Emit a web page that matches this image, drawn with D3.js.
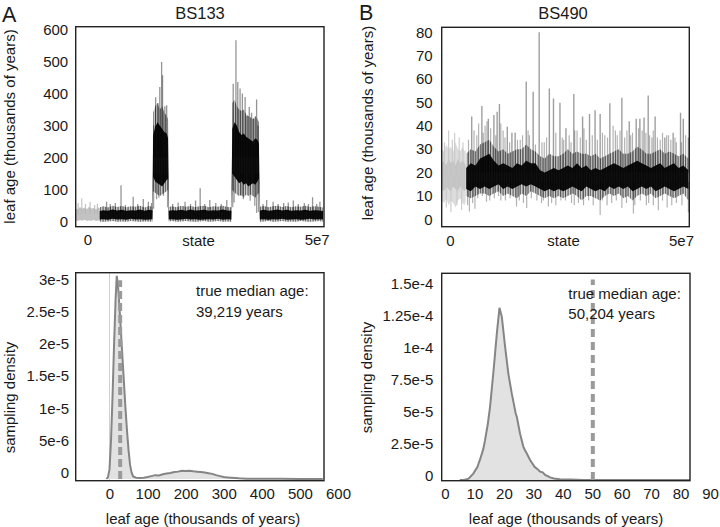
<!DOCTYPE html>
<html><head><meta charset="utf-8">
<script src="https://cdn.jsdelivr.net/npm/d3@7"></script>
<style>
body{margin:0;background:#fff}
svg{display:block}
text{font-family:"Liberation Sans",Arial,sans-serif;fill:#1a1a1a}
</style>
</head><body>
<svg id="chart" width="720" height="527"></svg>
<script>
// ---------------- DATA ----------------
// state axis in millions of MCMC states; ages in thousands of years
const traceXTicks = [0, 50];
const traceXTickLabels = ["0", "5e7"];
const traceAYTicks = [0, 100, 200, 300, 400, 500, 600];
const traceBYTicks = [0, 10, 20, 30, 40, 50, 60, 70, 80];

// Panel A trace: burn-in (grey)
const burnA_state = [-2.6,-2.1,-1.6,-1.1,-0.6,-0.1,0.4,0.9,1.4,1.9,2.4,2.7];
const burnA_lo    = [4,2,5,3,6,2,4,3,5,2,4,3];
const burnA_hi    = [42,38,46,40,44,39,47,41,43,38,45,40];
const burnA_spikeState = [-2.0,-1.2,-0.4,0.6,1.6,2.2];
const burnA_spikeTop   = [58,73,55,62,52,56];

// Panel A trace: sampled states (black)
const mainA_state = [2.7,3.5,4.5,5.5,6.5,7.5,8.5,9.5,10.5,11.5,12.5,13.5,14.2,
  14.35,14.8,15.3,15.8,16.3,16.8,17.3,17.6,
  17.75,18.5,19.5,20.5,21.5,22.5,23.5,24.5,25.5,26.5,27.5,28.5,29.5,30.5,31.4,
  31.6,32.1,32.6,33.1,33.6,34.1,34.6,35.1,35.6,36.1,36.6,37.1,37.4,
  37.6,38.5,39.5,40.5,41.5,42.5,43.5,44.5,45.5,46.5,47.5,48.5,49.5,50.5,51.4];
const mainA_lo = [7,8,6,9,7,8,6,9,7,8,6,7,8,
  140,125,120,115,110,120,130,135,
  7,8,6,7,9,7,8,6,7,8,7,9,6,8,7,
  150,140,130,120,125,115,120,110,115,120,115,125,135,
  7,8,6,8,7,9,6,7,8,6,7,9,7,8,7];
const mainA_hi = [33,36,34,38,35,37,34,36,35,38,34,37,35,
  270,295,310,300,290,280,275,260,
  34,36,35,37,34,38,35,36,37,34,36,35,38,35,34,
  290,310,300,280,270,275,265,260,255,250,260,255,245,
  35,37,34,36,38,35,37,34,36,35,37,34,36,35,33];
const mainA_outLo = [1,0,1,2,0,1,0,2,1,0,1,1,0,
  95,90,85,80,85,90,95,100,
  1,2,0,1,2,1,0,1,2,0,1,2,0,1,0,
  100,90,85,80,85,75,85,80,85,80,75,85,90,
  0,1,2,0,1,2,0,1,0,2,1,0,1,2,0];
const mainA_outHi = [45,48,44,50,46,49,45,48,47,50,44,49,47,
  340,360,370,350,360,340,330,320,
  46,48,45,50,47,49,46,48,50,45,48,47,50,46,45,
  370,380,360,350,345,350,335,330,325,320,330,320,310,
  47,49,45,48,50,46,49,45,48,47,50,46,48,47,44];
const spikeA_state = [4.2,5.0,6.1,7.35,8.3,10.0,11.0,12.2,13.3,14.0,
  14.5,14.9,15.4,15.8,16.2,16.4,16.9,17.3,
  18.6,19.8,21.3,22.5,23.6,24.6,25.6,26.7,28.0,29.2,30.4,
  31.8,32.4,32.8,33.3,33.8,34.4,34.8,35.3,35.8,36.3,36.9,37.2,
  38.3,39.1,40.5,41.6,42.8,43.8,44.9,46.0,47.3,48.2,49.1,50.0,50.7];
const spikeA_top = [62,55,58,114,52,78,55,71,62,58,
  300,388,370,420,498,457,360,363,
  55,60,62,55,66,104,55,68,58,55,68,
  430,566,436,415,400,389,330,358,340,320,381,300,
  55,68,62,55,58,60,66,55,58,55,76,55,62];
const spikeA_base = [30,30,30,30,30,30,30,30,30,30,
  200,200,200,200,200,200,200,200,
  30,30,30,30,30,30,30,30,30,30,30,
  200,200,200,200,200,200,200,200,200,200,200,200,
  30,30,30,30,30,30,30,30,30,30,30,30,30];
const dipA_state  = [14.45,15.1,15.6,16.6,17.5,31.7,32.0,33.5,34.0,35.5,36.5,36.9,37.3];
const dipA_bottom = [40,70,75,80,45,45,60,80,70,65,50,27,30];
const dipA_base   = [150,150,150,150,150,150,150,150,150,150,150,150,150];

// Panel B trace: burn-in (grey)
const burnB_state = [-1.8,-1.3,-0.8,-0.3,0.2,0.7,1.2,1.7,2.2,2.7,3.2,3.4];
const burnB_lo    = [13,12,14,13,12,14,13,12,14,13,12,13];
const burnB_hi    = [24,25,23,26,24,25,23,26,24,25,24,23];
const burnB_outLo = [8,7,9,6,8,7,5,8,9,7,6,8];
const burnB_outHi = [30,29,32,30,31,29,33,30,29,31,29,30];
const burnB_spikeState = [-1.2,-0.3,0.5,1.0,2.0,2.8,-0.8,0.2,1.5,2.5];
const burnB_spikeTop   = [33,38,34,37,35,33,5,3,6,4];

// Panel B trace: sampled states (black)
const mainB_state = [3.5,4.5,5.5,6.5,7.5,8.5,9.5,10.5,11.5,12.5,13.5,14.5,15.5,16.5,17.5,18.5,19.5,20.5,21.5,22.5,23.5,24.5,25.5,26.5,27.5,28.5,29.5,30.5,31.5,32.5,33.5,34.5,35.5,36.5,37.5,38.5,39.5,40.5,41.5,42.5,43.5,44.5,45.5,46.5,47.5,48.5,49.5,50.5,51.6];
const mainB_lo    = [13,12,14,13,14,13,14,15,13,14,13,14,15,14,15,14,13,12,13,12,13,12,13,14,13,12,14,13,12,13,12,14,13,14,13,14,12,13,14,13,14,12,13,14,13,12,13,14,13];
const mainB_hi    = [22,24,23,26,27,28,25,23,24,23,22,24,23,25,24,24,21,20,21,22,21,22,23,22,24,22,23,21,22,21,22,23,24,23,22,23,24,25,24,23,22,23,24,22,23,24,22,23,21];
const mainB_outLo = [10,9,10,11,11,10,11,12,10,11,10,9,11,10,12,11,10,9,10,9,10,9,10,11,10,8,10,10,9,8,10,11,10,11,9,10,8,10,11,10,11,9,10,11,10,9,10,11,8];
const mainB_outHi = [28,30,29,32,33,34,31,29,30,28,29,30,30,32,30,29,27,26,28,27,27,28,30,28,29,28,28,27,28,26,27,28,29,30,28,28,29,31,30,28,28,29,30,28,29,28,27,28,26];
const spikeB_state = [4.7,6.9,8.3,9.5,10.2,10.7,12.4,13.4,14.1,16.5,18.0,19.3,21.5,22.4,23.8,25.1,26.8,28.7,30.2,31.4,32.5,34.6,37.2,38.8,40.3,41.1,42.0,42.9,44.4,46.5,48.3,49.9,50.5,51.6];
const spikeB_top = [44,48.5,43,44.6,46,49.3,39.6,37,37,59,54.6,80,56,51.7,49.9,39,53.6,44,45,46.7,45,49.6,52,42,43,43,43.5,53,44,35,37,45.6,43,35];
const fringeB_state = [4.0,5.2,5.8,6.2,7.2,7.6,8.0,8.8,9.9,11.0,11.5,11.9,12.9,14.6,15.2,15.7,16.9,17.2,18.5,19.9,20.4,20.9,22.9,24.3,24.6,25.8,26.2,27.0,27.5,28.2,29.0,29.5,30.8,31.9,33.0,33.5,34.1,35.3,35.8,36.2,36.8,37.8,38.3,39.1,39.5,40.8,41.6,42.4,43.2,43.7,44.0,44.9,45.5,46.0,46.9,47.3,47.8,48.7,49.0,50.1,51.0];
const fringeB_top   = [34,38,36,41,37,40,42,39,36,41,38,35,33,34,34,36,38,36,32,33,33,35,37,35,34,36,33,38,38,35,39,34,36,34,37,36,35,40,38,36,38,35,38,36,37,39,38,37,36,35,38,35,34,37,36,36,34,35,33,33,36];
const dipB_state  = [3.8,4.2,4.9,5.4,6.0,7.0,7.9,8.6,9.6,10.5,11.0,12.0,13.0,14.4,15.0,15.9,16.6,17.6,18.8,19.8,20.2,21.3,22.0,22.9,24.0,25.0,26.3,26.9,27.8,28.9,30.0,31.0,32.5,33.0,34.0,35.0,36.0,37.2,38.2,39.7,40.0,41.2,42.5,43.0,44.0,45.1,46.0,47.0,48.0,49.0,50.2,51.6];
const dipB_bottom = [6,3.3,7,4.5,9,10,7.5,8,9,10,8,8,9,5.5,8,7,4.8,9,8,7,8,5.5,7,6,8,8,7,6,7,6,8,6,1.8,8,6,7,8,4.8,7,2.5,6,8,6,7,6,3.9,8,5,6,7,6,3];

// Panel A density (x: thousands of years, y: density)
const densA_age = [-8,-4,0,4,8,12,16,19,22,26,30,34,38,42,46,50,54,58,62,70,80,90,100,110,120,130,140,150,160,170,180,190,200,210,220,230,240,250,260,270,280,290,300,310,320,330,340,360,400,450,500,560];
const densA_val = [0,0.3e-6,1.5e-6,6e-6,13e-6,21e-6,28e-6,31.7e-6,30.5e-6,27e-6,23e-6,19e-6,15e-6,11e-6,7.5e-6,4.5e-6,2.2e-6,1e-6,0.4e-6,0.2e-6,0.15e-6,0.2e-6,0.3e-6,0.45e-6,0.6e-6,0.55e-6,0.75e-6,0.85e-6,0.95e-6,1.1e-6,1.15e-6,1.3e-6,1.25e-6,1.3e-6,1.2e-6,1.15e-6,1.1e-6,1.0e-6,0.9e-6,0.8e-6,0.6e-6,0.45e-6,0.3e-6,0.25e-6,0.2e-6,0.15e-6,0.1e-6,0.05e-6,0.03e-6,0.02e-6,0.01e-6,0];
const densAXTicks = [0,100,200,300,400,500,600];
const densAYTicks = [0,5e-6,1e-5,1.5e-5,2e-5,2.5e-5,3e-5];
const densAYLabels = ["0","5e-6","1e-5","1.5e-5","2e-5","2.5e-5","3e-5"];
const medianLineA = 28;      // dashed line position
const medianTextA = ["true median age:", "39,219 years"];

// Panel B density
const densB_age = [5,6.5,8,9.6,11,11.9,13,13.6,14.5,15.3,16.4,17.6,18.5,19.3,20.4,21.5,22.7,24.0,24.4,25.5,26.6,27.2,27.7,28.9,30.5,31.2,32.3,33.2,34,35.7,37,39,42.5,45,47,60,85];
const densB_val = [0,0,1e-6,5e-6,1e-5,1.6e-5,2.4e-5,3.1e-5,4.3e-5,5.7e-5,8.3e-5,11.4e-5,13.4e-5,12.7e-5,10.4e-5,8.3e-5,6.7e-5,5.2e-5,4.9e-5,3.6e-5,2.6e-5,2.3e-5,2.1e-5,1.56e-5,1.0e-5,0.9e-5,0.65e-5,0.6e-5,0.4e-5,0.2e-5,0.12e-5,0.05e-5,0.03e-5,0.01e-5,0,0,0];
const densBXTicks = [0,10,20,30,40,50,60,70,80,90];
const densBYTicks = [0,2.5e-5,5e-5,7.5e-5,1e-4,1.25e-4,1.5e-4];
const densBYLabels = ["0","2.5e-5","5e-5","7.5e-5","1e-4","1.25e-4","1.5e-4"];
const medianLineB = 50.204;
const medianTextB = ["true median age:", "50,204 years"];

const titles = ["BS133", "BS490"];
const panelLetters = ["A", "B"];

// ---------------- DRAW ----------------
const svg = d3.select("#chart");
const FS = 15;

// vertical striation texture to mimic densely overplotted trace lines
const defs = svg.append("defs");
const pat = defs.append("pattern").attr("id", "stripes").attr("patternUnits", "userSpaceOnUse")
  .attr("width", 5).attr("height", 7);
pat.append("rect").attr("x", 0).attr("y", 0).attr("width", 1).attr("height", 7).attr("fill", "#000").attr("fill-opacity", 0.45);
pat.append("rect").attr("x", 2).attr("y", 0).attr("width", 1).attr("height", 7).attr("fill", "#000").attr("fill-opacity", 0.25);
pat.append("rect").attr("x", 3).attr("y", 0).attr("width", 1).attr("height", 7).attr("fill", "#000").attr("fill-opacity", 0.35);

function frame(g, f) {
  g.append("rect").attr("x", f.x0).attr("y", f.y0)
    .attr("width", f.x1 - f.x0).attr("height", f.y1 - f.y0)
    .attr("fill", "none").attr("stroke", "#222").attr("stroke-width", 1.4);
}
let clipId = 0;
function clip(f) {
  const id = "clip" + (clipId++);
  defs.append("clipPath").attr("id", id).append("rect")
    .attr("x", f.x0).attr("y", f.y0).attr("width", f.x1 - f.x0).attr("height", f.y1 - f.y0);
  return svg.append("g").attr("clip-path", "url(#" + id + ")");
}
function band(g, xs, ys, st, lo, hi, color, op) {
  const area = d3.area().x(i => xs(st[i])).y0(i => ys(lo[i])).y1(i => ys(hi[i]));
  g.append("path").attr("d", area(d3.range(st.length))).attr("fill", color).attr("fill-opacity", op);
}
function spikes(g, xs, ys, st, from, to, color, op, w) {
  g.selectAll(null).data(d3.range(st.length)).join("line")
    .attr("x1", i => xs(st[i])).attr("x2", i => xs(st[i]))
    .attr("y1", i => ys(typeof from === "number" ? from : from[i]))
    .attr("y2", i => ys(to[i]))
    .attr("stroke", color).attr("stroke-opacity", op).attr("stroke-width", w);
}
function leftAxis(g, scale, ticks, labels, x, pad, dy) {
  const ax = d3.axisLeft(scale).tickValues(ticks).tickSize(0).tickPadding(pad)
    .tickFormat((d, i) => labels ? labels[i] : d);
  const a = g.append("g").attr("transform", `translate(${x},${dy || 0})`).call(ax);
  a.select(".domain").remove();
  a.selectAll("text").attr("font-size", FS).attr("font-family", '"Liberation Sans",Arial,sans-serif').attr("fill", "#1a1a1a");
}
function bottomAxis(g, scale, ticks, labels, y, pad) {
  const ax = d3.axisBottom(scale).tickValues(ticks).tickSize(0).tickPadding(pad)
    .tickFormat((d, i) => labels ? labels[i] : d);
  const a = g.append("g").attr("transform", `translate(0,${y})`).call(ax);
  a.select(".domain").remove();
  a.selectAll("text").attr("font-size", FS).attr("font-family", '"Liberation Sans",Arial,sans-serif').attr("fill", "#1a1a1a");
}
function ytitle(txt, x, y) {
  svg.append("text").attr("transform", `translate(${x},${y}) rotate(-90)`)
    .attr("text-anchor", "middle").attr("dominant-baseline", "central")
    .attr("font-size", FS).text(txt);
}

// ----- Panel A trace -----
{
  const f = {x0: 75.7, x1: 324, y0: 26.7, y1: 226.7};
  const xs = d3.scaleLinear().domain([0, 50]).range([87.3, 316.7]);
  const ys = d3.scaleLinear().domain([0, 600]).range([221.7, 29.3]);
  const g = clip(f);
  band(g, xs, ys, burnA_state, burnA_lo, burnA_hi, "#c2c2c2", 1);
  spikes(g, xs, ys, burnA_spikeState, 25, burnA_spikeTop, "#b5b5b5", 0.8, 1.2);
  band(g, xs, ys, mainA_state, mainA_outLo, mainA_outHi, "#000", 0.22);
  band(g, xs, ys, mainA_state, mainA_outLo, mainA_outHi, "url(#stripes)", 1);
  band(g, xs, ys, mainA_state, mainA_lo, mainA_hi, "#000", 0.93);
  spikes(g, xs, ys, spikeA_state, spikeA_base, spikeA_top, "#000", 0.42, 1.3);
  spikes(g, xs, ys, dipA_state, dipA_base, dipA_bottom, "#000", 0.38, 1.3);
  frame(svg, f);
  leftAxis(svg, ys, traceAYTicks, null, f.x0, 7.5);
  bottomAxis(svg, xs, traceXTicks, traceXTickLabels, f.y1, 8);
  svg.append("text").attr("x", 198.5).attr("y", 245.5).attr("text-anchor", "middle").attr("font-size", FS).text("state");
  ytitle("leaf age (thousands of years)", 9, 126.5);
  svg.append("text").attr("x", 200).attr("y", 19).attr("text-anchor", "middle").attr("font-size", 16.5).text(titles[0]);
  svg.append("text").attr("x", 2).attr("y", 21.5).attr("font-size", 21.5).text(panelLetters[0]);
}

// ----- Panel B trace -----
{
  const f = {x0: 441.7, x1: 689.3, y0: 27.3, y1: 226.7};
  const xs = d3.scaleLinear().domain([0, 50]).range([450, 681]);
  const ys = d3.scaleLinear().domain([0, 80]).range([219.3, 32.3]);
  const g = clip(f);
  band(g, xs, ys, burnB_state, burnB_outLo, burnB_outHi, "#dcdcdc", 1);
  band(g, xs, ys, burnB_state, burnB_lo, burnB_hi, "#c4c4c4", 1);
  spikes(g, xs, ys, burnB_spikeState, 18, burnB_spikeTop, "#c8c8c8", 0.9, 1.2);
  band(g, xs, ys, mainB_state, mainB_outLo, mainB_outHi, "#000", 0.2);
  band(g, xs, ys, mainB_state, mainB_outLo, mainB_outHi, "url(#stripes)", 1);
  spikes(g, xs, ys, fringeB_state, 20, fringeB_top, "#000", 0.3, 1.2);
  spikes(g, xs, ys, dipB_state, 16, dipB_bottom, "#000", 0.3, 1.2);
  band(g, xs, ys, mainB_state, mainB_lo, mainB_hi, "#000", 0.93);
  spikes(g, xs, ys, spikeB_state, 20, spikeB_top, "#000", 0.38, 1.4);
  frame(svg, f);
  leftAxis(svg, ys, traceBYTicks, null, f.x0, 9);
  bottomAxis(svg, xs, traceXTicks, traceXTickLabels, f.y1, 8.5);
  svg.append("text").attr("x", 563.5).attr("y", 246).attr("text-anchor", "middle").attr("font-size", FS).text("state");
  ytitle("leaf age (thousands of years)", 367.5, 123);
  svg.append("text").attr("x", 563).attr("y", 19).attr("text-anchor", "middle").attr("font-size", 16.5).text(titles[1]);
  svg.append("text").attr("x", 359).attr("y", 19.5).attr("font-size", 21.5).text(panelLetters[1]);
}

// ----- Panel A density -----
{
  const f = {x0: 75.7, x1: 324, y0: 272.7, y1: 480.7};
  const xs = d3.scaleLinear().domain([0, 600]).range([109.5, 338]);
  const ys = d3.scaleLinear().domain([0, 3e-5]).range([479, 286.7]);
  const g = clip(f);
  g.append("line").attr("x1", xs(0)).attr("x2", xs(0)).attr("y1", f.y0).attr("y2", f.y1)
    .attr("stroke", "#d0d0d0").attr("stroke-width", 1);
  const idx = d3.range(densA_age.length);
  g.append("path").attr("d", d3.area().x(i => xs(densA_age[i])).y0(ys(0)).y1(i => ys(densA_val[i]))(idx))
    .attr("fill", "#e2e2e2");
  g.append("path").attr("d", d3.line().x(i => xs(densA_age[i])).y(i => ys(densA_val[i]))(idx))
    .attr("fill", "none").attr("stroke", "#858585").attr("stroke-width", 2);
  g.append("line").attr("x1", xs(medianLineA)).attr("x2", xs(medianLineA))
    .attr("y1", ys(0)).attr("y2", ys(3.1e-5))
    .attr("stroke", "#9a9a9a").attr("stroke-width", 4).attr("stroke-dasharray", "8,4");
  frame(svg, f);
  leftAxis(svg, ys, densAYTicks, densAYLabels, f.x0, 6.7, -6.7);
  bottomAxis(svg, xs, densAXTicks, null, f.y1, 7.5);
  svg.append("text").attr("x", 203).attr("y", 523.5).attr("text-anchor", "middle").attr("font-size", FS).text("leaf age (thousands of years)");
  ytitle("sampling density", 9, 397.5);
  svg.append("text").attr("x", 196).attr("y", 295.5).attr("font-size", FS).text(medianTextA[0]);
  svg.append("text").attr("x", 196).attr("y", 316.5).attr("font-size", FS).text(medianTextA[1]);
}

// ----- Panel B density -----
{
  const f = {x0: 441.7, x1: 690, y0: 273.3, y1: 480.7};
  const xs = d3.scaleLinear().domain([0, 90]).range([445, 710]);
  const ys = d3.scaleLinear().domain([0, 1.5e-4]).range([480, 287.3]);
  const g = clip(f);
  const idx = d3.range(densB_age.length);
  g.append("path").attr("d", d3.area().x(i => xs(densB_age[i])).y0(ys(0)).y1(i => ys(densB_val[i]))(idx))
    .attr("fill", "#e2e2e2");
  g.append("path").attr("d", d3.line().x(i => xs(densB_age[i])).y(i => ys(densB_val[i]))(idx))
    .attr("fill", "none").attr("stroke", "#858585").attr("stroke-width", 2);
  g.append("line").attr("x1", xs(medianLineB)).attr("x2", xs(medianLineB))
    .attr("y1", ys(0)).attr("y2", ys(1.56e-4))
    .attr("stroke", "#9a9a9a").attr("stroke-width", 4).attr("stroke-dasharray", "8,5");
  frame(svg, f);
  leftAxis(svg, ys, densBYTicks, densBYLabels, f.x0, 8.4, -4);
  bottomAxis(svg, xs, densBXTicks, null, f.y1, 7.5);
  svg.append("text").attr("x", 566).attr("y", 523.5).attr("text-anchor", "middle").attr("font-size", FS).text("leaf age (thousands of years)");
  ytitle("sampling density", 366, 377.5);
  svg.append("text").attr("x", 568.3).attr("y", 299).attr("font-size", FS).text(medianTextB[0]);
  svg.append("text").attr("x", 568.3).attr("y", 318.5).attr("font-size", FS).text(medianTextB[1]);
}
</script>
</body></html>
